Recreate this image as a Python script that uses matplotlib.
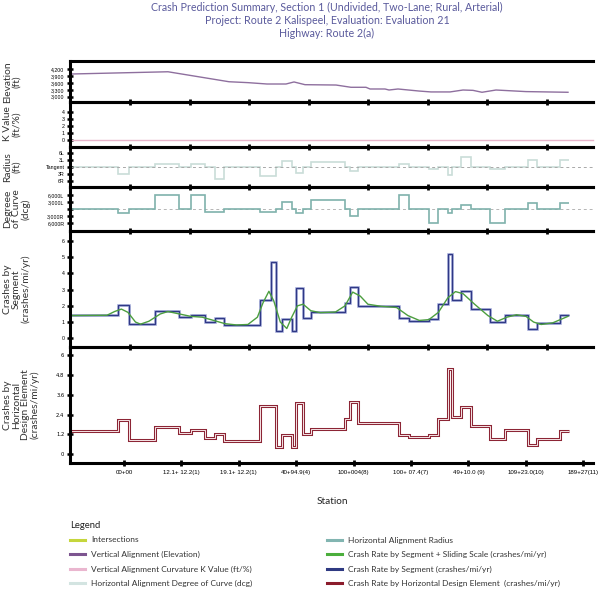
import matplotlib
matplotlib.use("Agg")
import matplotlib.pyplot as plt
import matplotlib.patheffects as pe
from matplotlib.lines import Line2D

plt.rcParams['font.family'] = ['Lato', 'DejaVu Sans']

# station axis (arbitrary station units along the route)
x_max = 523
top_ticks = [60, 119.5, 179, 238.5, 298, 357.5, 417, 476.5]
station_ticks = [54, 111.4, 168.8, 226.2, 283.6, 341, 398.4, 455.8, 513.2]
station_labels = ['00+00', '12.1+ 12.2(1)', '19.1+ 12.2(1)', '40+94.9(4)', '100+004(8)',
                  '100+ 07.4(7)', '49+10.0 (9)', '109+23.0(10)', '189+27(11)']

# segment edges shared by the step series
edges = [0, 48, 59, 85, 109, 121, 135, 145, 154, 190, 201, 206, 212, 222, 226, 233, 241,
         275, 280, 288, 329, 339, 359, 368, 378, 382, 391, 401, 420, 435, 458, 467, 490, 499]

crash_segment = [1.41, 2.05, 0.86, 1.7, 1.29, 1.45, 1.02, 1.25, 0.82, 2.34, 4.71, 0.45, 1.17,
                 0.45, 3.13, 1.23, 1.6, 2.15, 3.18, 1.97, 1.23, 1.07, 1.21, 2.11, 5.23, 2.36,
                 2.91, 1.78, 0.98, 1.45, 0.57, 0.94, 1.41]
crash_hde = [1.43, 2.05, 0.87, 1.67, 1.27, 1.47, 1.0, 1.23, 0.8, 2.94, 2.94, 0.46, 1.15,
             0.46, 3.12, 1.21, 1.55, 2.13, 3.14, 1.91, 1.19, 1.05, 1.17, 2.11, 5.15, 2.28,
             2.88, 1.71, 0.95, 1.47, 0.54, 0.93, 1.41]
radius = [0, -1, 0, 0.4, 0, 0.4, 0, -1.6, 0, -1.25, -1.25, 0, 0.8, 0, -0.85, 0, 0.7,
          0, -0.55, 0, 0.4, 0, -0.3, 0, -1.1, 0, 1.4, 0, -0.3, 0, 1, 0, 1]
degree = [0, -0.6, 0, 2, 0, 2, -0.4, -0.4, 0, -0.4, -0.4, 0, 1, 0, -0.6, 0, 1.3,
          0, -1, 0, 2, 0, -2, 0, -0.5, 0, 0.6, 0, -2, 0, 0.8, 0, 0.9]

sliding_x = [0, 37, 44.6, 51.4, 57.9, 65.5, 70.5, 78.9, 90.3, 97.9, 109.3, 120.8, 132.2, 143.6,
             155, 166.5, 177.9, 187.4, 193.1, 198.9, 203.8, 210.3, 216.8, 221.7, 227.4, 233.1,
             240.8, 250.3, 265.5, 275, 282.7, 290.3, 297.9, 311.2, 326.5, 337.9, 349.3, 358.9,
             368.4, 377.9, 385.5, 393.1, 404.6, 417.9, 427.4, 436.9, 446.5, 456, 463.6, 471.2,
             482.7, 497.9]
sliding_y = [1.4, 1.42, 1.65, 1.8, 1.6, 1.0, 0.87, 1.05, 1.5, 1.65, 1.5, 1.35, 1.3, 1.1,
             0.9, 0.82, 0.85, 1.3, 2.2, 2.9, 2.3, 1.0, 0.6, 1.3, 2.0, 2.1,
             1.7, 1.58, 1.62, 2.0, 2.85, 2.6, 2.1, 1.97, 1.9, 1.4, 1.1, 1.15,
             1.6, 2.5, 2.88, 2.75, 2.1, 1.4, 1.05, 1.3, 1.45, 1.35, 1.0, 0.85,
             0.95, 1.35]

elev_x = [0, 98, 159, 178, 197, 216, 224, 235, 266, 281, 296, 300, 315, 319, 328, 349, 361,
          380, 393, 403, 412, 426, 456, 498]
elev_y = [4000, 4100, 3660, 3620, 3560, 3560, 3650, 3530, 3515, 3415, 3415, 3340, 3340, 3295,
          3340, 3250, 3210, 3210, 3295, 3280, 3195, 3295, 3225, 3195]

k_x = [0, x_max]
k_val = [0, 0]

W, H = 600, 590
fig = plt.figure(figsize=(W / 100, H / 100), dpi=100)


def fx(x):
    return x / W


def fy(y):
    return 1 - y / H


tick_font = ['Liberation Sans Narrow', 'Liberation Sans', 'DejaVu Sans']

panels = [(61, 102), (102, 147), (147, 187), (187, 231), (231, 347), (347, 463)]
axes = []
for yt, yb in panels:
    ax = fig.add_axes([fx(70), fy(yb), fx(523), (yb - yt) / H])
    ax.set_xlim(0, x_max)
    ax.spines['right'].set_visible(False)
    for s in ['left', 'top', 'bottom']:
        ax.spines[s].set_linewidth(2.2)
        ax.spines[s].set_color('black')
    ax.tick_params(axis='y', direction='inout', length=4, width=1.8, labelsize=3.8, pad=2)
    ax.tick_params(axis='x', direction='inout', length=4.5, width=2, labelsize=4.4, pad=3,
                   top=False, bottom=True)
    ax.set_xticks(top_ticks)
    ax.set_xticklabels([])
    ax.patch.set_alpha(0)
    axes.append(ax)

ax_el, ax_k, ax_r, ax_d, ax_c, ax_h = axes

# elevation
ax_el.plot(elev_x, elev_y, color='#8e6f9e', lw=1.0)
ax_el.set_ylim(2766, 4575)
ax_el.set_yticks([3000, 3300, 3600, 3900, 4200])
ax_el.set_yticklabels(['3,000', '3,300', '3,600', '3,900', '4,200'])

# K value
ax_k.plot(k_x, k_val, color='#e6b3c9', lw=1.0, clip_on=False)
ax_k.set_ylim(-0.99, 5.37)
ax_k.set_yticks([0, 1, 2, 3, 4])

# radius
ax_r.stairs(radius, edges, baseline=None, color='#c9ddd8', lw=1.2)
ax_r.axhline(0, color='#a9a9a9', lw=0.7, dashes=(3, 3))
ax_r.set_ylim(-2.76, 2.76)
ax_r.set_yticks([-2, -1, 0, 1, 2])
ax_r.set_yticklabels(['6R', '3R', 'Tangent', '3L', '6L'])

# degree of curve
ax_d.axhline(0, color='#b5b5b5', lw=0.7, dashes=(3, 3), zorder=1)
ax_d.stairs(degree, edges, baseline=None, color='#7fb2ac', lw=1.2, zorder=2)
ax_d.set_ylim(-3.14, 3.14)
ax_d.set_yticks([-2, -1, 0, 1, 2])
ax_d.set_yticklabels(['6,000R', '3,000R', '', '3,000L', '6,000L'])

# crashes by segment
ax_c.stairs(crash_segment, edges, baseline=None, color='#2f3886', lw=1.0,
            path_effects=[pe.Stroke(linewidth=2.1, foreground='#bcc2e4'), pe.Normal()])
ax_c.plot(sliding_x, sliding_y, color='#4c9e3f', lw=1.0, solid_joinstyle='round')
ax_c.set_ylim(-0.54, 6.62)
ax_c.set_yticks(range(7))

# crashes by horizontal design element
ax_h.stairs(crash_hde, edges, baseline=None, color='#8c2535', lw=2.2,
            path_effects=[pe.Normal(), pe.Stroke(linewidth=0.7, foreground='#f6e4e6')])
ax_h.set_ylim(-0.53, 6.48)
ax_h.set_yticks([0, 1.2, 2.4, 3.6, 4.8, 6])
ax_h.set_yticklabels(['0', '1.2', '2.4', '3.6', '4.8', '6'])
ax_h.tick_params(axis='y', labelsize=4.4)
ax_h.set_xticks(station_ticks)
ax_h.set_xticklabels(station_labels)

for ax in axes:
    for lab in ax.get_xticklabels() + ax.get_yticklabels():
        lab.set_fontfamily(tick_font)
for lab in ax_h.get_yticklabels():
    lab.set_fontfamily(['DejaVu Sans'])
    lab.set_fontsize(3.8)

# axis titles on the left
ylabels = [('Elevation\n(ft)', 82), ('K Value\n(ft/%)', 124), ('Radius\n(ft)', 167),
           ('Degreee\nof Curve\n(dcg)', 209), ('Crashes by\nSegment\n(crashes/mi/yr)', 289),
           ('Crashes by\nHorizontal\nDesign Element\n(crashes/mi/yr)', 405)]
for txt, yc in ylabels:
    fig.text(fx(3), fy(yc), txt, rotation=90, ha='left', va='center', fontsize=7.4,
             color='#333333', multialignment='center', linespacing=1.0)

title_col = '#5a5a9c'
fig.text(fx(327), fy(7), 'Crash Prediction Summary, Section 1 (Undivided, Two-Lane; Rural, Arterial)',
         ha='center', va='center', fontsize=7.7, color=title_col)
fig.text(fx(327), fy(20), 'Project: Route 2 Kalispeel, Evaluation: Evaluation 21',
         ha='center', va='center', fontsize=7.7, color=title_col)
fig.text(fx(327), fy(33), 'Highway: Route 2(a)', ha='center', va='center', fontsize=7.7,
         color=title_col)

fig.text(fx(332), fy(502), 'Station', ha='center', va='center', fontsize=7.2, color='#222222')

# legend
fig.text(fx(70), fy(526), 'Legend', ha='left', va='center', fontsize=6.8, color='#222222')
legend_items = [
    ('Intersections', '#c5d63c', 70, 540),
    ('Vertical Alignment (Elevation)', '#7d5590', 70, 554),
    ('Vertical Alignment Curvature K Value (ft/%)', '#eab6cf', 70, 569),
    ('Horizontal Alignment Degree of Curve (dcg)', '#d3e4e1', 70, 583),
    ('Horizontal Alignment Radius', '#82b5b1', 327, 540),
    ('Crash Rate by Segment + Sliding Scale (crashes/mi/yr)', '#4bae3c', 327, 554),
    ('Crash Rate by Segment (crashes/mi/yr)', '#2f3a82', 327, 569),
    ('Crash Rate by Horizontal Design Element  (crashes/mi/yr)', '#8b1c2c', 327, 583),
]
for label, col, x0, y0 in legend_items:
    fig.add_artist(Line2D([fx(x0), fx(x0 + 15)], [fy(y0), fy(y0)], color=col, lw=2.2,
                          transform=fig.transFigure))
    fig.text(fx(x0 + 21), fy(y0), label, ha='left', va='center', fontsize=6.0, color='#333333')

fig.savefig('out.png', dpi=100)
